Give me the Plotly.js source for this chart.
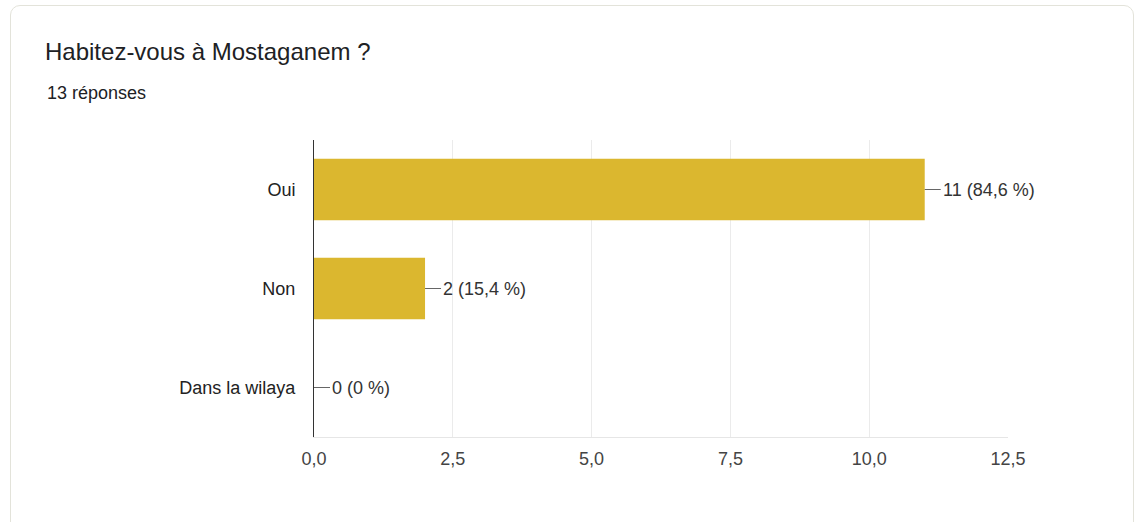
<!DOCTYPE html>
<html>
<head>
<meta charset="utf-8">
<script src="https://cdn.plot.ly/plotly-3.0.1.min.js"></script>
<style>
  html, body { margin: 0; padding: 0; background: #ffffff; }
  #wrap { position: relative; width: 1141px; height: 522px; overflow: hidden; }
  #card { position: absolute; left: 10px; top: 5px; width: 1124px; height: 530px;
          border: 1.5px solid #e3e3da; border-radius: 10px; background: #fff; box-sizing: border-box; }
  #chart { position: absolute; left: 0; top: 0; width: 1141px; height: 522px; }
</style>
</head>
<body>
<div id="wrap">
  <div id="card"></div>
  <div id="chart"></div>
</div>
<script>
const categories = ['Oui', 'Non', 'Dans la wilaya'];
const counts = [11, 2, 0];
const percents = ['84,6', '15,4', '0'];
const xTickVals = [0, 2.5, 5, 7.5, 10, 12.5];

const barColor = '#dbb72f';
const font = 'Liberation Sans, Arial, sans-serif';

const trace = {
  type: 'bar',
  orientation: 'h',
  y: categories,
  x: counts,
  marker: { color: barColor },
  hoverinfo: 'none'
};

const annotations = categories.map((c, i) => ({
  x: counts[i], y: c, xref: 'x', yref: 'y',
  text: counts[i] + ' (' + percents[i] + ' %)',
  showarrow: true, arrowhead: 0, arrowwidth: 1, arrowcolor: '#666',
  ax: 16, ay: 0, xanchor: 'left',
  font: { family: font, size: 18, color: '#333' }
}));

annotations.push({
  xref: 'paper', yref: 'paper',
  x: (45 - 314) / 694, y: 1 + (140 - 93) / 297,
  xanchor: 'left', yanchor: 'middle', showarrow: false,
  text: '13 réponses',
  font: { family: font, size: 18, color: '#202124' }
});

const layout = {
  width: 1141, height: 522,
  margin: { l: 314, r: 133, t: 140, b: 85 },
  paper_bgcolor: 'rgba(0,0,0,0)',
  plot_bgcolor: 'rgba(0,0,0,0)',
  separators: ', ',
  showlegend: false,
  bargap: 0.38,
  title: {
    text: 'Habitez-vous à Mostaganem ?',
    xref: 'container', yref: 'container',
    x: 45 / 1141, xanchor: 'left',
    y: 1 - 52 / 522, yanchor: 'middle',
    font: { family: font, size: 24, color: '#202124' }
  },
  xaxis: {
    range: [0, 12.5],
    tickvals: xTickVals,
    tickformat: '.1f',
    showgrid: true, gridcolor: '#ebebeb', gridwidth: 1,
    zeroline: false,
    showline: true, linecolor: '#e6e6e6', linewidth: 1,
    ticks: '', ticklabelstandoff: 5,
    tickfont: { family: font, size: 18, color: '#444' },
    fixedrange: true
  },
  yaxis: {
    type: 'category',
    autorange: 'reversed',
    showgrid: false, zeroline: false,
    showline: true, linecolor: '#333', linewidth: 1,
    ticks: '', ticklabelstandoff: 14,
    tickfont: { family: font, size: 18, color: '#222' },
    fixedrange: true
  },
  annotations: annotations
};

Plotly.newPlot('chart', [trace], layout, { displayModeBar: false, staticPlot: true });
</script>
</body>
</html>
